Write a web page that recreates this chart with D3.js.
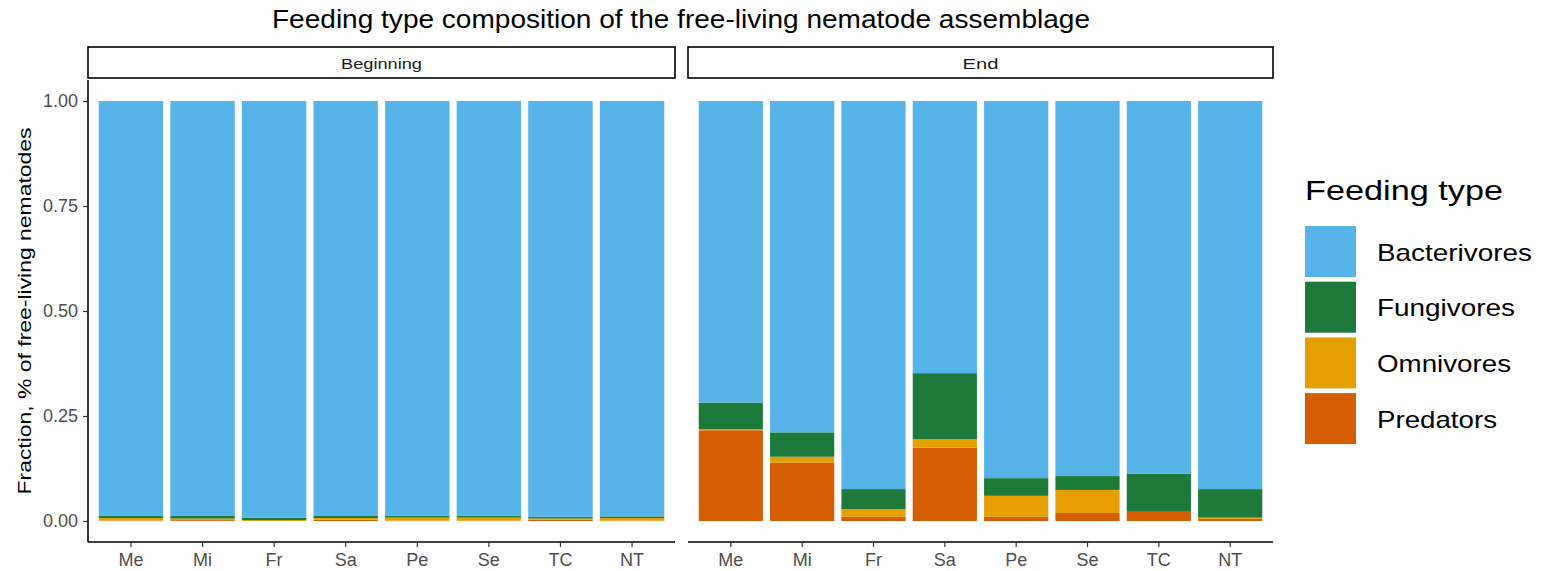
<!DOCTYPE html>
<html>
<head>
<meta charset="utf-8">
<script src="https://cdn.jsdelivr.net/npm/d3@7/dist/d3.min.js"></script>
<style>
  html, body { margin: 0; padding: 0; background: #fff; }
  svg { display: block; font-family: "Liberation Sans", Arial, sans-serif; }
</style>
</head>
<body>
<svg id="chart" width="1554" height="571"></svg>
<script>
// Treatments on the x axis
const treatments = ["Me", "Mi", "Fr", "Sa", "Pe", "Se", "TC", "NT"];
// Sampling times (facets)
const stages = ["Beginning", "End"];
// Feeding types, top of stack first (legend order)
const feedingTypes = ["Bacterivores", "Fungivores", "Omnivores", "Predators"];
const feedingColors = ["#56B4E9", "#1E7A3A", "#E69F00", "#D55E00"];

// Fractions at the beginning of the experiment
const beginBacterivores = [0.987, 0.987, 0.992, 0.988, 0.987, 0.987, 0.990, 0.989];
const beginFungivores   = [0.006, 0.007, 0.006, 0.005, 0.005, 0.005, 0.004, 0.004];
const beginOmnivores    = [0.006, 0.004, 0.002, 0.004, 0.007, 0.007, 0.003, 0.006];
const beginPredators    = [0.001, 0.002, 0.000, 0.003, 0.001, 0.001, 0.003, 0.001];

// Fractions at the end of the experiment
const endBacterivores = [0.718, 0.789, 0.924, 0.648, 0.898, 0.893, 0.887, 0.924];
const endFungivores   = [0.063, 0.058, 0.048, 0.157, 0.042, 0.033, 0.091, 0.068];
const endOmnivores    = [0.003, 0.014, 0.018, 0.020, 0.050, 0.055, 0.000, 0.003];
const endPredators    = [0.216, 0.139, 0.010, 0.175, 0.010, 0.019, 0.022, 0.005];

const yTicks = [0, 0.25, 0.5, 0.75, 1];

function rows(bact, fung, omni, pred) {
  return treatments.map((t, i) => ({
    treatment: t,
    Bacterivores: bact[i], Fungivores: fung[i], Omnivores: omni[i], Predators: pred[i]
  }));
}
const panelData = {
  Beginning: rows(beginBacterivores, beginFungivores, beginOmnivores, beginPredators),
  End: rows(endBacterivores, endFungivores, endOmnivores, endPredators)
};

const svg = d3.select("#chart");
const color = d3.scaleOrdinal().domain(feedingTypes).range(feedingColors);

// Panel geometry
const panelTop = 80, panelBottom = 542;
const panels = [
  { stage: "Beginning", x0: 88, x1: 675, stripWidth: 81 },
  { stage: "End", x0: 688, x1: 1273, stripWidth: 36 }
];
const y = d3.scaleLinear().domain([-0.05, 1.05]).range([panelBottom, panelTop]);

// Stack from bottom: predators, omnivores, fungivores, bacterivores
const stack = d3.stack().keys(feedingTypes.slice().reverse());

panels.forEach((p, pi) => {
  const x = d3.scaleBand().domain(treatments).range([p.x0, p.x1])
    .paddingInner(0.1).paddingOuter(0.15);
  const g = svg.append("g");
  const series = stack(panelData[p.stage]);

  g.selectAll("g.layer").data(series).join("g")
    .attr("class", "layer")
    .attr("fill", d => color(d.key))
    .selectAll("rect").data(d => d).join("rect")
    .attr("x", d => x(d.data.treatment))
    .attr("width", x.bandwidth())
    .attr("y", d => y(d[1]))
    .attr("height", d => Math.max(0, y(d[0]) - y(d[1])));

  // Strip
  g.append("rect")
    .attr("x", p.x0).attr("y", 47)
    .attr("width", p.x1 - p.x0).attr("height", 31)
    .attr("fill", "#fff").attr("stroke", "#000").attr("stroke-width", 1.6);
  g.append("text")
    .attr("x", (p.x0 + p.x1) / 2).attr("y", 63)
    .attr("text-anchor", "middle").attr("dominant-baseline", "central")
    .attr("font-size", 15.5).attr("fill", "#1a1a1a")
    .attr("textLength", p.stripWidth).attr("lengthAdjust", "spacingAndGlyphs")
    .text(p.stage);

  // X axis
  const xAxis = g.append("g")
    .attr("transform", `translate(0,${panelBottom})`)
    .call(d3.axisBottom(x).tickSize(5).tickPadding(5).tickSizeOuter(0));
  xAxis.select(".domain").attr("stroke", "#000").attr("stroke-width", 1.6)
    .attr("d", `M${p.x0},0H${p.x1}`);
  xAxis.selectAll(".tick line").attr("stroke", "#333").attr("stroke-width", 1.2);
  xAxis.selectAll(".tick text").attr("font-size", 18).attr("fill", "#4d4d4d")
    .attr("font-family", "Liberation Sans, Arial, sans-serif")
    .attr("dy", "0.8em");

  // Y axis only on the first panel
  if (pi === 0) {
    const yAxis = g.append("g")
      .attr("transform", `translate(${p.x0},0)`)
      .call(d3.axisLeft(y).tickValues(yTicks).tickFormat(d3.format(".2f"))
        .tickSize(5).tickPadding(5).tickSizeOuter(0));
    yAxis.select(".domain").attr("stroke", "#000").attr("stroke-width", 1.6)
      .attr("d", `M0,${panelTop}V${panelBottom}`);
    yAxis.selectAll(".tick line").attr("stroke", "#333").attr("stroke-width", 1.2);
    yAxis.selectAll(".tick text").attr("font-size", 18).attr("fill", "#4d4d4d")
      .attr("font-family", "Liberation Sans, Arial, sans-serif");
  }
});

// Title
svg.append("text")
  .attr("x", 681).attr("y", 28)
  .attr("text-anchor", "middle")
  .attr("font-size", 25).attr("fill", "#000")
  .attr("textLength", 818).attr("lengthAdjust", "spacingAndGlyphs")
  .text("Feeding type composition of the free-living nematode assemblage");

// Y axis title
svg.append("text")
  .attr("transform", `translate(31,${(panelTop + panelBottom) / 2}) rotate(-90)`)
  .attr("text-anchor", "middle")
  .attr("font-size", 19).attr("fill", "#000")
  .attr("textLength", 367).attr("lengthAdjust", "spacingAndGlyphs")
  .text("Fraction, % of free-living nematodes");

// Legend
const legend = svg.append("g");
legend.append("text")
  .attr("x", 1305).attr("y", 200)
  .attr("font-size", 28).attr("fill", "#000")
  .attr("textLength", 198).attr("lengthAdjust", "spacingAndGlyphs")
  .text("Feeding type");
const labelWidths = { Bacterivores: 155, Fungivores: 138, Omnivores: 134, Predators: 120 };
const items = legend.selectAll("g.item").data(feedingTypes).join("g")
  .attr("class", "item")
  .attr("transform", (d, i) => `translate(1305,${226 + i * 55.7})`);
items.append("rect")
  .attr("width", 51).attr("height", 51)
  .attr("fill", d => color(d));
items.append("text")
  .attr("x", 72).attr("y", 26)
  .attr("dominant-baseline", "central")
  .attr("font-size", 24).attr("fill", "#000")
  .attr("textLength", d => labelWidths[d]).attr("lengthAdjust", "spacingAndGlyphs")
  .text(d => d);
</script>
</body>
</html>
